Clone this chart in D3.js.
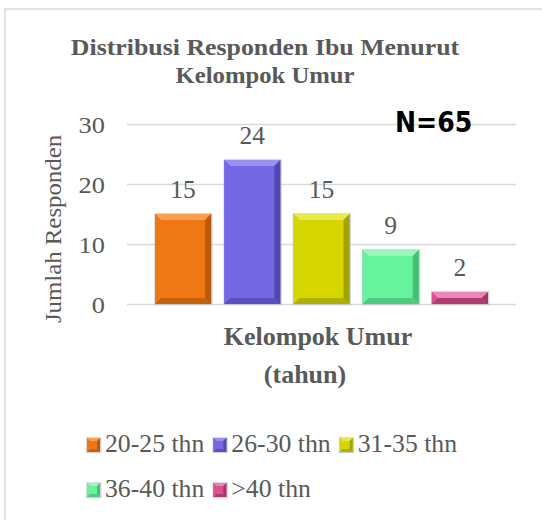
<!DOCTYPE html>
<html>
<head>
<meta charset="utf-8">
<script src="https://cdn.jsdelivr.net/npm/d3@7"></script>
<style>
  html, body { margin: 0; padding: 0; background: #ffffff; }
  svg { display: block; }
</style>
</head>
<body>
<svg id="chart" width="542" height="520"></svg>
<script>
// ---- data ----
const categories = ["20-25 thn", "26-30 thn", "31-35 thn", "36-40 thn", ">40 thn"];
const values = [15, 24, 15, 9, 2];
const yTicks = [0, 10, 20, 30];
const titleLines = ["Distribusi Responden Ibu Menurut", "Kelompok Umur"];
const yTitle = "Jumlah Responden";
const xTitleLines = ["Kelompok Umur", "(tahun)"];
const noteText = "N=65";

// ---- styles ----
const palette = [
  { main: "#F07814", light: "#F7A050", dark: "#B85A0A" },
  { main: "#7367E4", light: "#988FEE", dark: "#5148B0" },
  { main: "#D5D500", light: "#E8E850", dark: "#A3A300" },
  { main: "#66F39C", light: "#9AF8BE", dark: "#48BD77" },
  { main: "#DC5191", light: "#EC86B6", dark: "#A3366A" }
];
const textColor = "#595959";
const serif = "'Liberation Serif', 'Times New Roman', serif";

const svg = d3.select("#chart");

// outer border
svg.append("rect").attr("x", 5).attr("y", 9).attr("width", 600).attr("height", 600)
  .attr("fill", "none").attr("stroke", "#D9D9D9").attr("stroke-width", 1.5);

// scales
const y = d3.scaleLinear().domain([0, 30]).range([304, 124]);
const x = d3.scaleBand().domain(categories).range([148.5, 494.5])
  .paddingInner(0.19).paddingOuter(0.095);
const color = d3.scaleOrdinal().domain(categories).range(palette);

function stext(g, str, px, py, opts) {
  const t = g.append("text")
    .attr("transform", `translate(${px},${py})` + (opts.rot ? ` rotate(${opts.rot})` : "") + ` scale(${opts.sx || 1},1)`)
    .attr("text-anchor", opts.anchor || "middle")
    .attr("font-family", opts.family || serif)
    .attr("font-size", opts.size)
    .attr("font-weight", opts.weight || "normal")
    .attr("fill", opts.fill || textColor)
    .text(str);
  if (opts.dy) t.attr("dy", opts.dy);
  return t;
}

// gridlines + tick labels via axis
const yAxis = d3.axisLeft(y).tickValues(yTicks).tickSize(0).tickPadding(0);
const axisG = svg.append("g").attr("transform", "translate(105,0)").call(yAxis);
axisG.select(".domain").remove();
axisG.selectAll(".tick text").remove();
axisG.selectAll(".tick").each(function(d) {
  const g = d3.select(this);
  g.append("line").attr("x1", 22).attr("x2", 411).attr("y1", 0).attr("y2", 0)
    .attr("stroke", "#D9D9D9").attr("stroke-width", 1.5);
  stext(g, d, 0, 0, { size: 24, sx: 1.1, anchor: "end", dy: "0.35em" });
});

// bevelled bars
function bevelBar(g, bx, by, bw, bh, c, b) {
  b = Math.min(b, bh / 2, bw / 2);
  g.append("rect").attr("x", bx - 0.8).attr("y", by - 0.8).attr("width", bw + 2.2).attr("height", bh + 2)
    .attr("fill", "#BFBFBF").attr("opacity", 0.7);
  g.append("rect").attr("x", bx).attr("y", by).attr("width", bw).attr("height", bh).attr("fill", c.main);
  const pts = (arr) => arr.map(p => p.join(",")).join(" ");
  g.append("polygon").attr("points", pts([[bx, by], [bx + bw, by], [bx + bw - b, by + b], [bx + b, by + b]]))
    .attr("fill", c.light);
  g.append("polygon").attr("points", pts([[bx, by], [bx + b, by + b], [bx + b, by + bh - b], [bx, by + bh]]))
    .attr("fill", c.main).attr("opacity", 0.9);
  g.append("polygon").attr("points", pts([[bx + bw, by], [bx + bw, by + bh], [bx + bw - b, by + bh - b], [bx + bw - b, by + b]]))
    .attr("fill", c.dark);
  g.append("polygon").attr("points", pts([[bx, by + bh], [bx + b, by + bh - b], [bx + bw - b, by + bh - b], [bx + bw, by + bh]]))
    .attr("fill", c.dark).attr("opacity", 0.75);
}

const barsG = svg.append("g");
categories.forEach((cat, i) => {
  const v = values[i];
  const g = barsG.append("g").attr("class", "bar");
  bevelBar(g, x(cat), y(v), x.bandwidth(), y(0) - y(v), color(cat), 6);
  stext(svg, v, x(cat) + x.bandwidth() / 2, y(v) - 16, { size: 25, sx: 1.02 });
});

// title
stext(svg, titleLines[0], 265, 55, { size: 23.5, sx: 1.1, weight: "bold" });
stext(svg, titleLines[1], 265, 83, { size: 23.5, sx: 1.05, weight: "bold" });

// y title
stext(svg, yTitle, 61, 229, { size: 23, sx: 1.08, rot: -90 });

// x title
stext(svg, xTitleLines[0], 318, 345, { size: 26, weight: "bold" });
stext(svg, xTitleLines[1], 305, 383, { size: 26, weight: "bold" });

// note
stext(svg, noteText, 395, 132, { size: 28, sx: 0.9, anchor: "start", weight: "bold",
  family: "'Comic Sans MS', 'DejaVu Sans', sans-serif", fill: "#000000" });

// legend (flow layout)
const legendRows = [[0, 1, 2], [3, 4]];
const rowBase = [452, 497];
const legSx = 1.03;
legendRows.forEach((row, r) => {
  let cx = 87;
  row.forEach(i => {
    const cat = categories[i];
    const g = svg.append("g");
    bevelBar(g, cx, rowBase[r] - 14, 13, 14, color(cat), 3);
    const t = stext(svg, cat, cx + 18, rowBase[r], { size: 25, sx: legSx, anchor: "start" });
    cx += 18 + t.node().getComputedTextLength() * legSx + 9;
  });
});
</script>
</body>
</html>
